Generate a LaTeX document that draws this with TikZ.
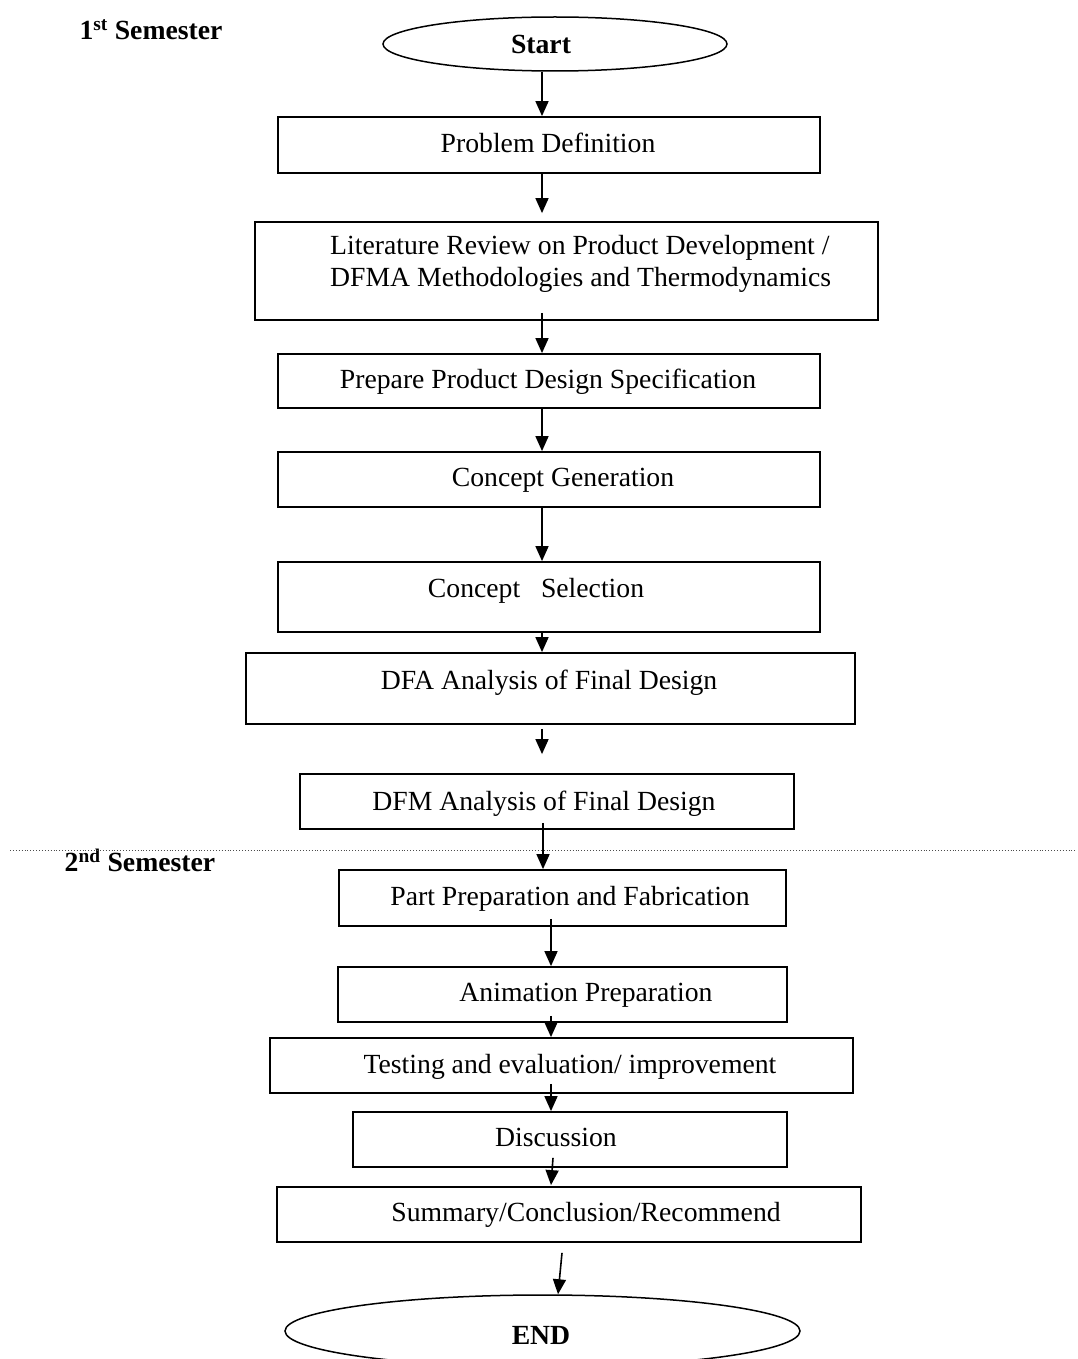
\documentclass[tikz,border=0pt]{standalone}
\usepackage{fontspec}
\setmainfont{Liberation Serif}
\usetikzlibrary{arrows.meta,shapes.geometric,calc}
\begin{document}
\begin{tikzpicture}[x=1pt,y=-1pt,
  every node/.style={font=\fontsize{27.7}{32}\selectfont},
  box/.style={draw, rectangle, line width=1.8pt, inner sep=0pt},
  term/.style={draw, ellipse, line width=1.5pt, inner sep=0pt},
  lbl/.style={inner sep=0pt, text height=0.68em, text depth=0.2em},
  arr/.style={line width=1.6pt, -{Triangle[length=15pt,width=13pt]}},
  divider/.style={dotted, line width=0.9pt, black!70}]
\useasboundingbox (0,0) rectangle (1077,1359);
\fill[white] (0,0) rectangle (1077,1359);

% x positions of connectors
\coordinate (c542) at (542,0);
\coordinate (c543) at (543,0);
\coordinate (c551) at (551,0);
\coordinate (c553) at (553,0);
\coordinate (c558) at (558,0);
\coordinate (c562) at (562,0);

% terminals
\node[term, minimum width=344pt, minimum height=54pt] (start) at (555,44) {};
\node[term, minimum width=515pt, minimum height=72pt] (endn) at (542.5,1331) {};

% boxes
\node[box, minimum width=542pt, minimum height=56pt] (pd)   at (549,145)   {};
\node[box, minimum width=623pt, minimum height=98pt] (lit)  at (566.5,271) {};
\node[box, minimum width=542pt, minimum height=54pt] (prep) at (549,381)   {};
\node[box, minimum width=542pt, minimum height=55pt] (cg)   at (549,479.5) {};
\node[box, minimum width=542pt, minimum height=70pt] (cs)   at (549,597)   {};
\node[box, minimum width=609pt, minimum height=71pt] (dfa)  at (550.5,688.5) {};
\node[box, minimum width=494pt, minimum height=55pt] (dfm)  at (547,801.5) {};
\node[box, minimum width=447pt, minimum height=56pt] (part) at (562.5,898) {};
\node[box, minimum width=449pt, minimum height=55pt] (anim) at (562.5,994.5) {};
\node[box, minimum width=583pt, minimum height=55pt] (test) at (561.5,1065.5) {};
\node[box, minimum width=434pt, minimum height=55pt] (disc) at (570,1139.5)  {};
\node[box, minimum width=584pt, minimum height=55pt] (sum)  at (569,1214.5) {};

% texts
\node[lbl, font=\fontsize{27.7}{32}\selectfont\bfseries] (sem1) at (151,37) {1\textsuperscript{st} Semester};
\node[lbl, font=\fontsize{27.7}{32}\selectfont\bfseries] (sem2) at (140,869) {2\textsuperscript{nd} Semester};
\node[lbl, font=\fontsize{27.7}{32}\selectfont\bfseries] (startt) at (541,51) {Start};
\node[lbl, font=\fontsize{27.7}{32}\selectfont\bfseries] (endt) at (541,1342) {END};
\node[lbl] (pdt)   at (548,150)  {Problem Definition};
\node[inner sep=0pt, align=left, anchor=west] (litt) at (330,264)
  {Literature Review on Product Development /\\DFMA Methodologies and Thermodynamics};
\node[lbl] (prept) at (548,386)  {Prepare Product Design Specification};
\node[lbl] (cgt)   at (563,484)  {Concept Generation};
\node[lbl] (cst)   at (536,595)  {Concept\ \ \ Selection};
\node[lbl] (dfat)  at (549,687)  {DFA Analysis of Final Design};
\node[lbl] (dfmt)  at (544,808)  {DFM Analysis of Final Design};
\node[lbl] (partt) at (570,903)  {Part Preparation and Fabrication};
\node[lbl] (animt) at (586,999)  {Animation Preparation};
\node[lbl] (testt) at (570,1071) {Testing and evaluation/ improvement};
\node[lbl] (disct) at (556,1144) {Discussion};
\node[lbl] (sumt)  at (586,1219) {Summary/Conclusion/Recommend};

% semester divider
\coordinate (dl) at (10,850);
\coordinate (dr) at (1077,850);
\draw[divider] (dl) -- (dr);

% connectors
\draw[arr] (start.south -| c542) -- (pd.north -| c542);
\draw[arr] (pd.south -| c542) -- ($(lit.north -| c542)+(0,-8)$);
\draw[arr] ($(lit.south -| c542)+(0,-8)$) -- (prep.north -| c542);
\draw[arr] (prep.south -| c542) -- (cg.north -| c542);
\draw[arr] (cg.south -| c542) -- (cs.north -| c542);
\draw[arr] (cs.south -| c542) -- (dfa.north -| c542);
\draw[arr] ($(dfa.south -| c542)+(0,4)$) -- ($(dfm.north -| c542)+(0,-19)$);
\draw[arr] ($(dfm.south -| c543)+(0,-7)$) -- (part.north -| c543);
\draw[arr] ($(part.south -| c551)+(0,-8)$) -- (anim.north -| c551);
\draw[arr] ($(anim.south -| c551)+(0,-7)$) -- (test.north -| c551);
\draw[arr] ($(test.south -| c551)+(0,-10)$) -- (disc.north -| c551);
\draw[arr] ($(disc.south -| c553)+(0,-10)$) -- ($(sum.north -| c551)+(0,-1)$);
\draw[arr] ($(sum.south -| c562)+(0,10)$) -- (endn.north -| c558);
\end{tikzpicture}
\end{document}
